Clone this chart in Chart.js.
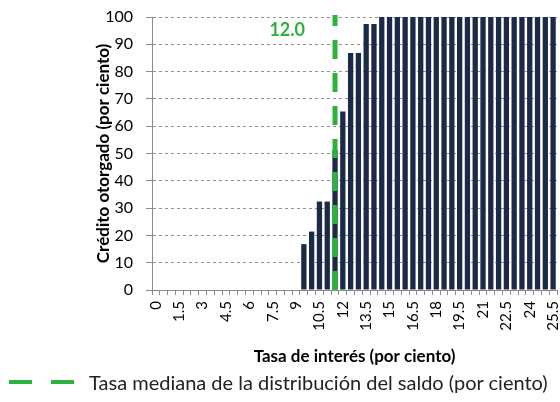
<!DOCTYPE html>
<html><head><meta charset="utf-8">
<script src="https://cdn.jsdelivr.net/npm/chart.js@4.4.0/dist/chart.umd.min.js"></script>
<style>
html,body{margin:0;padding:0;background:#fff;}
#wrap{position:relative;width:560px;height:402px;}
#legend{position:absolute;left:9px;top:370px;height:24px;display:flex;align-items:center;font-family:Lato,sans-serif;font-size:20px;color:#222;white-space:nowrap;}
.dash{display:inline-block;width:23px;height:4px;background:#2db33d;margin-right:19px;}
</style></head><body>
<div id="wrap"><canvas id="c" width="560" height="402"></canvas>
<div id="legend"><span class="dash"></span><span class="dash" style="margin-right:15px"></span><span id="legtext"></span></div></div>
<script>
const categories = ['0','0.5','1','1.5','2','2.5','3','3.5','4','4.5','5','5.5','6','6.5','7','7.5','8','8.5','9','9.5','10','10.5','11','11.5','12','12.5','13','13.5','14','14.5','15','15.5','16','16.5','17','17.5','18','18.5','19','19.5','20','20.5','21','21.5','22','22.5','23','23.5','24','24.5','25','25.5'];
const creditGranted = [0,0,0,0,0,0,0,0,0,0,0,0,0,0,0,0,0,0,0,16.8,21.4,32.4,32.4,51.3,65.4,86.8,86.8,97.4,97.4,100,100,100,100,100,100,100,100,100,100,100,100,100,100,100,100,100,100,100,100,100,100,100];
const tickLabels = ['0','1.5','3','4.5','6','7.5','9','10.5','12','13.5','15','16.5','18','19.5','21','22.5','24','25.5'];
const yTicks = [0,10,20,30,40,50,60,70,80,90,100];
const medianRate = 12.0;
const medianCategory = '11.5';
const seriesName = 'Crédito otorgado';
const legendLabel = 'Tasa mediana de la distribución del saldo (por ciento)';
const xTitle = 'Tasa de interés (por ciento)';
const yTitle = 'Crédito otorgado (por ciento)';

const GREEN = '#2db33d';
const NAVY = '#1b2a47';
const FONT = 'Lato, "Open Sans", sans-serif';

document.getElementById('legtext').textContent = legendLabel;

const medianPlugin = {
  id: 'median',
  afterDatasetsDraw(chart) {
    const {ctx, scales: {x, y}} = chart;
    const px = x.getPixelForValue(categories.indexOf(medianCategory));
    ctx.save();
    ctx.strokeStyle = GREEN;
    ctx.lineWidth = 5;
    ctx.setLineDash([19, 14]);
    ctx.beginPath();
    ctx.moveTo(px, y.getPixelForValue(0));
    ctx.lineTo(px, y.top - 2);
    ctx.stroke();
    ctx.setLineDash([]);
    ctx.font = 'bold 18px ' + FONT;
    ctx.fillStyle = GREEN;
    ctx.textAlign = 'right';
    ctx.textBaseline = 'middle';
    ctx.fillText(medianRate.toFixed(1), px - 30, y.top + 13);
    ctx.restore();
  }
};

new Chart(document.getElementById('c'), {
  type: 'bar',
  data: {
    labels: categories,
    datasets: [{
      label: seriesName,
      data: creditGranted,
      backgroundColor: NAVY,
      borderWidth: 0,
      categoryPercentage: 1,
      barPercentage: 0.68
    }]
  },
  options: {
    responsive: false,
    animation: false,
    layout: {padding: {left: 93, right: 3, top: 17, bottom: 35}},
    plugins: {legend: {display: false}, tooltip: {enabled: false}},
    scales: {
      x: {
        grid: {display: true, drawOnChartArea: false, drawTicks: true, tickLength: 5, color: '#8c8c8c', offset: true},
        border: {color: '#8c8c8c'},
        ticks: {
          autoSkip: false, maxRotation: 90, minRotation: 90, padding: 6,
          color: '#000', font: {family: FONT, size: 15},
          callback: (v, i) => tickLabels.includes(categories[i]) ? categories[i] : ''
        },
        title: {display: true, text: xTitle, color: '#000', font: {family: FONT, size: 17, weight: 'bold'}, padding: 0},
        afterFit(s) { s.height = 77; s.paddingLeft = 0; s.paddingRight = 0; }
      },
      y: {
        min: 0, max: 100,
        afterBuildTicks(s) { s.ticks = yTicks.map(v => ({value: v})); },
        ticks: {padding: 13, color: '#000', font: {family: FONT, size: 16}},
        grid: {color: '#8f8f8f', tickLength: 6, tickColor: '#8c8c8c'},
        border: {color: '#8c8c8c', dash: [3, 3]},
        title: {display: true, text: yTitle, color: '#000', font: {family: FONT, size: 17, weight: 'bold'}, padding: 0},
        afterFit(s) { s.width = 59; s.paddingTop = 0; s.paddingBottom = 0; }
      }
    }
  },
  plugins: [medianPlugin]
});
</script>
</body></html>
